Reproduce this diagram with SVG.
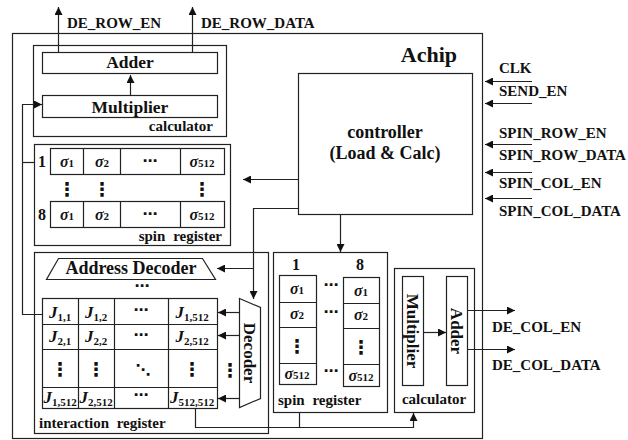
<svg xmlns="http://www.w3.org/2000/svg" width="628" height="440" viewBox="0 0 628 440" font-family="Liberation Serif, Times New Roman, serif">
<defs>
<marker id="ah" viewBox="0 0 10 10" refX="10" refY="5" markerWidth="8" markerHeight="8" markerUnits="userSpaceOnUse" orient="auto"><path d="M0,0 L10,5 L0,10 z" fill="#111"/></marker>
<style>
.b{fill:#fff;stroke:#222;stroke-width:1.2}
.n{fill:none;stroke:#222;stroke-width:1.2}
.c{fill:none;stroke:#222;stroke-width:1.2}
.a{fill:none;stroke:#222;stroke-width:1.2;marker-end:url(#ah)}
text{font-family:'Liberation Serif',serif;font-weight:bold;fill:#111}
.sig{font-size:15px}
.t17{font-size:17.5px;text-anchor:middle}
.lbl{font-size:15px}
.s{font-size:16px;font-style:italic;text-anchor:middle}
.sb{font-size:11px;font-style:normal}
.j{font-size:17px;font-style:italic;text-anchor:middle}
.d{font-family:'DejaVu Sans',sans-serif;font-size:15px;text-anchor:middle}
.v{font-family:'DejaVu Sans',sans-serif;font-size:19px;text-anchor:middle}
</style>
</defs>
<g id="achip">
<rect x="12.5" y="33.5" width="470" height="405" class="n"/>
<text x="457" y="62" font-size="22" text-anchor="end">Achip</text>
</g>
<g id="calc-top">
<rect x="33.5" y="45.5" width="193" height="91" class="b"/>
<rect x="42.5" y="52.5" width="175" height="21" class="b"/>
<text x="130" y="68" class="t17">Adder</text>
<rect x="42.5" y="95.5" width="175" height="22" class="b"/>
<text x="130" y="113" class="t17">Multiplier</text>
<text x="213" y="131" class="lbl" text-anchor="end">calculator</text>
</g>
<g id="spin-reg-top">
<rect x="34.5" y="144.5" width="196" height="101" class="b"/>
<text x="42" y="167" font-size="16" text-anchor="middle">1</text>
<text x="42" y="220" font-size="16" text-anchor="middle">8</text>
<rect x="50.5" y="148.5" width="174" height="26" class="b"/>
<path d="M83.5,148.5V174.5M120.5,148.5V174.5M180.5,148.5V174.5" class="n"/>
<rect x="50.5" y="201.5" width="174" height="26" class="b"/>
<path d="M83.5,201.5V227.5M120.5,201.5V227.5M180.5,201.5V227.5" class="n"/>
<text x="67" y="167" class="s">σ<tspan class="sb">1</tspan></text>
<text x="102" y="167" class="s">σ<tspan class="sb">2</tspan></text>
<text x="150" y="166" class="d">⋯</text>
<text x="202" y="167" class="s">σ<tspan class="sb">512</tspan></text>
<text x="67" y="220" class="s">σ<tspan class="sb">1</tspan></text>
<text x="102" y="220" class="s">σ<tspan class="sb">2</tspan></text>
<text x="150" y="219" class="d">⋯</text>
<text x="202" y="220" class="s">σ<tspan class="sb">512</tspan></text>
<text x="67" y="196" class="v">⋮</text>
<text x="102" y="196" class="v">⋮</text>
<text x="202" y="196" class="v">⋮</text>
<text x="222" y="241" class="lbl" text-anchor="end" word-spacing="4">spin register</text>
</g>
<g id="controller">
<rect x="298.5" y="73.5" width="174" height="141" class="b"/>
<text x="385" y="138" font-size="18" text-anchor="middle">controller</text>
<text x="385" y="159" font-size="18" text-anchor="middle">(Load &amp; Calc)</text>
</g>
<g id="interaction-reg">
<rect x="34.5" y="252.5" width="234" height="181" class="b"/>
<path d="M58.5,258.5H202.5L215.5,279.5H46.5Z" class="b"/>
<text x="131" y="274" font-size="18" text-anchor="middle">Address Decoder</text>
<text x="142" y="291" class="d">⋯</text>
<rect x="42.5" y="298.5" width="175" height="110" class="b"/>
<path d="M78.5,298.5V408.5M114.5,298.5V408.5M168.5,298.5V408.5M42.5,324.5H217.5M42.5,349.5H217.5M42.5,387.5H217.5" class="n"/>
<text x="60" y="318" class="j">J<tspan class="sb" dy="3">1,1</tspan></text>
<text x="96" y="318" class="j">J<tspan class="sb" dy="3">1,2</tspan></text>
<text x="141" y="315" class="d">⋯</text>
<text x="192" y="318" class="j">J<tspan class="sb" dy="3">1,512</tspan></text>
<text x="60" y="342" class="j">J<tspan class="sb" dy="3">2,1</tspan></text>
<text x="96" y="342" class="j">J<tspan class="sb" dy="3">2,2</tspan></text>
<text x="141" y="340" class="d">⋯</text>
<text x="192" y="342" class="j">J<tspan class="sb" dy="3">2,512</tspan></text>
<text x="60" y="376" class="v">⋮</text>
<text x="96" y="376" class="v">⋮</text>
<text x="143" y="375" class="d">⋱</text>
<text x="192" y="376" class="v">⋮</text>
<text x="60" y="403" class="j">J<tspan class="sb" dy="3">1,512</tspan></text>
<text x="96" y="403" class="j">J<tspan class="sb" dy="3">2,512</tspan></text>
<text x="141" y="400" class="d">⋯</text>
<text x="192" y="403" class="j">J<tspan class="sb" dy="3">512,512</tspan></text>
<path d="M239.5,298.5L260.5,307.5V398.5L239.5,407.5Z" class="b"/>
<text transform="translate(250,353) rotate(90)" font-size="17" text-anchor="middle" dy="6">Decoder</text>
<text x="230" y="377" class="v">⋮</text>
<text x="39" y="428" class="lbl" word-spacing="4">interaction register</text>
</g>
<g id="spin-reg-right">
<rect x="273.5" y="252.5" width="114" height="160" class="b"/>
<text x="296" y="270" font-size="16" text-anchor="middle">1</text>
<text x="360" y="270" font-size="16" text-anchor="middle">8</text>
<rect x="279.5" y="275.5" width="37" height="109" class="b"/>
<path d="M279.5,302.5H316.5M279.5,327.5H316.5M279.5,363.5H316.5" class="n"/>
<rect x="343.5" y="277.5" width="36" height="109" class="b"/>
<path d="M343.5,303.5H379.5M343.5,328.5H379.5M343.5,364.5H379.5" class="n"/>
<text x="297" y="294" class="s">σ<tspan class="sb">1</tspan></text>
<text x="297" y="319" class="s">σ<tspan class="sb">2</tspan></text>
<text x="297" y="353" class="v">⋮</text>
<text x="297" y="379" class="s">σ<tspan class="sb">512</tspan></text>
<text x="361" y="296" class="s">σ<tspan class="sb">1</tspan></text>
<text x="361" y="320" class="s">σ<tspan class="sb">2</tspan></text>
<text x="361" y="354" class="v">⋮</text>
<text x="361" y="381" class="s">σ<tspan class="sb">512</tspan></text>
<text x="331" y="290" class="d">⋯</text>
<text x="331" y="317" class="d">⋯</text>
<text x="331" y="376" class="d">⋯</text>
<text x="278" y="405" class="lbl" word-spacing="4">spin register</text>
</g>
<g id="calc-right">
<rect x="394.5" y="268.5" width="80" height="144" class="b"/>
<rect x="402.5" y="276.5" width="21" height="109" class="b"/>
<text transform="translate(413,331) rotate(90)" font-size="17" text-anchor="middle" dy="6">Multiplier</text>
<rect x="446.5" y="276.5" width="21" height="109" class="b"/>
<text transform="translate(457,331) rotate(90)" font-size="17" text-anchor="middle" dy="6">Adder</text>
<text x="434" y="404" class="lbl" text-anchor="middle">calculator</text>
</g>
<g id="signals">
<text x="67" y="28" class="sig">DE_ROW_EN</text>
<text x="201" y="28" class="sig">DE_ROW_DATA</text>
<text x="499" y="73" class="sig">CLK</text>
<text x="499" y="96" class="sig">SEND_EN</text>
<text x="499" y="138" class="sig">SPIN_ROW_EN</text>
<text x="499" y="160" class="sig">SPIN_ROW_DATA</text>
<text x="499" y="188" class="sig">SPIN_COL_EN</text>
<text x="499" y="216" class="sig">SPIN_COL_DATA</text>
<text x="492" y="332" class="sig">DE_COL_EN</text>
<text x="492" y="370" class="sig">DE_COL_DATA</text>
</g>
<g id="connectors">
<path d="M58.5,52V7" class="a"/>
<path d="M192.5,52V7" class="a"/>
<path d="M130.5,95V75" class="a"/>
<path d="M42,314.5H22.5V104.5H42" class="a"/>
<path d="M22.5,162.5H34.5" class="c"/>
<path d="M532,81.5H485" class="a"/>
<path d="M532,103.5H485" class="a"/>
<path d="M532,144.5H485" class="a"/>
<path d="M532,172.5H485" class="a"/>
<path d="M532,198.5H485" class="a"/>
<path d="M298,179.5H243" class="a"/>
<path d="M298,208.5H253.5V299" class="a"/>
<path d="M253.5,268.5H217" class="a"/>
<path d="M340.5,214V252" class="a"/>
<path d="M239,312.5H218" class="a"/>
<path d="M239,335.5H218" class="a"/>
<path d="M239,398.5H218" class="a"/>
<path d="M423,332.5H446" class="a"/>
<path d="M467,310.5H515" class="a"/>
<path d="M467,349.5H515" class="a"/>
<path d="M195.5,408V427.5H413.5V413" class="a"/>
<path d="M299.5,412V427.5" class="c"/>
</g>
</svg>
